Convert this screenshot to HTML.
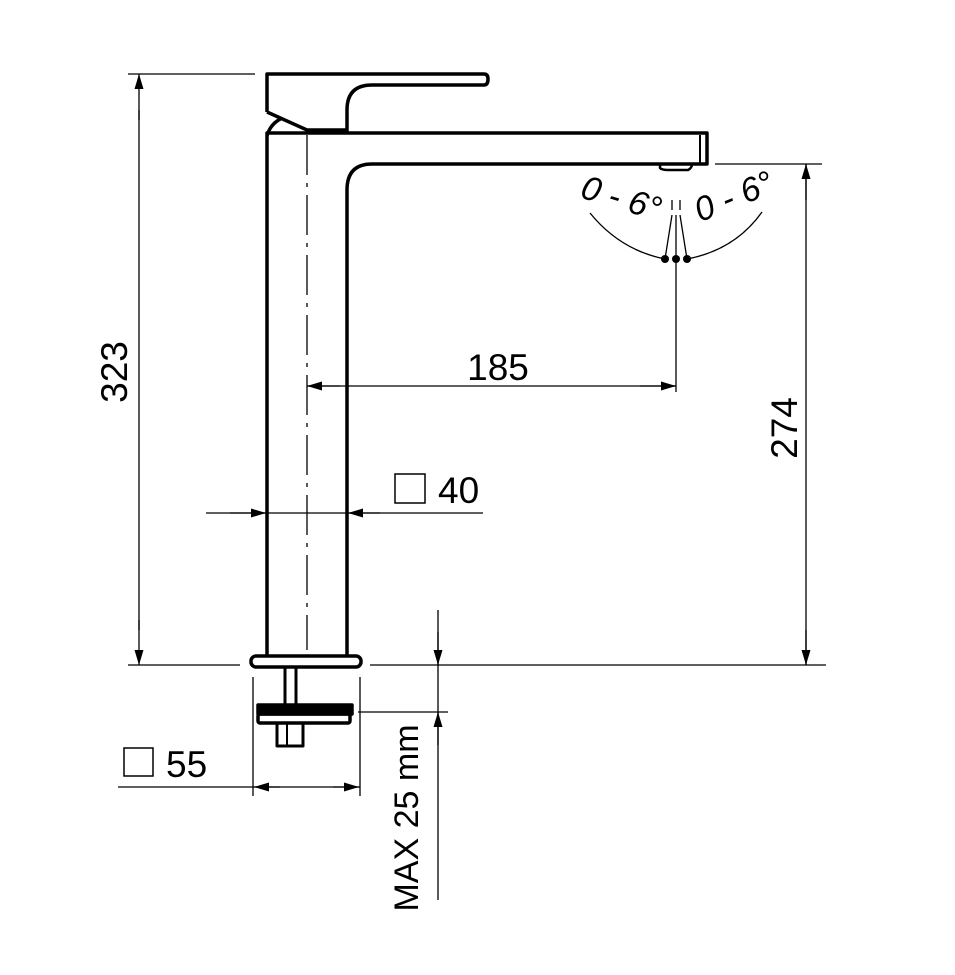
<!DOCTYPE html>
<html><head><style>body{margin:0;background:#fff}svg{display:block}</style></head><body>
<svg width="955" height="975" viewBox="0 0 955 975" xmlns="http://www.w3.org/2000/svg" font-family="Liberation Sans, Arial, sans-serif">
<defs>
<marker id="a" viewBox="0 0 10 6" refX="10" refY="3" markerWidth="22" markerHeight="9" markerUnits="userSpaceOnUse" orient="auto"><path d="M0,0 L10,3 L0,6 Z" fill="#000"/></marker>
</defs>
<g fill="none" stroke="#000" stroke-width="3.5" stroke-linejoin="round">
<path d="M267,112 L267,74 L484,74 Q488,74 488,79 Q488,85 484,85 L372,85 Q347,85 347,110 L347,132"/>
<path d="M267,112 L307,130 L347,130"/>
<path d="M267,136 Q270,124 282,118"/>
<path d="M267,655 L267,133 L707,133 L707,164 L372,164 Q347,164 347,190 L347,655"/>
<line x1="700" y1="135" x2="700" y2="163" stroke-width="2"/>
<path d="M660,164 L660,168 Q662,170 668,170 L688,170 Q692,168 692,164" stroke-width="2.5"/>
<rect x="251" y="656" width="110" height="11" rx="5"/>
<line x1="285" y1="667" x2="285" y2="705" stroke-width="3"/>
<line x1="296" y1="667" x2="296" y2="705" stroke-width="3"/>
<rect x="258" y="705" width="94" height="9" fill="#000"/>
<rect x="258" y="714" width="92" height="9" rx="2"/>
<path d="M277,723 L277,746 L303,746 L303,723" stroke-width="3"/>
<line x1="287" y1="724" x2="287" y2="745" stroke-width="2"/>
</g>
<g fill="none" stroke="#000" stroke-width="1.3">
<line x1="307" y1="135" x2="307" y2="650" stroke-dasharray="40,8,4,8"/>
<line x1="128" y1="74" x2="255" y2="74"/>
<line x1="128" y1="665" x2="240" y2="665"/>
<line x1="139" y1="120" x2="139" y2="74" marker-end="url(#a)"/>
<line x1="139" y1="620" x2="139" y2="665" marker-end="url(#a)"/>
<line x1="139" y1="110" x2="139" y2="630"/>
<line x1="715" y1="164" x2="822" y2="164"/>
<line x1="370" y1="665" x2="826" y2="665"/>
<line x1="806" y1="164" x2="806" y2="665"/>
<line x1="806" y1="200" x2="806" y2="164" marker-end="url(#a)"/>
<line x1="806" y1="630" x2="806" y2="665" marker-end="url(#a)"/>
<line x1="307" y1="386" x2="676" y2="386"/>
<line x1="340" y1="386" x2="307" y2="386" marker-end="url(#a)"/>
<line x1="640" y1="386" x2="676" y2="386" marker-end="url(#a)"/>
<line x1="676" y1="260" x2="676" y2="392"/>
<line x1="206" y1="513" x2="483" y2="513"/>
<line x1="230" y1="513" x2="266" y2="513" marker-end="url(#a)"/>
<line x1="380" y1="513" x2="348" y2="513" marker-end="url(#a)"/>
<line x1="253" y1="677" x2="253" y2="796"/>
<line x1="360" y1="677" x2="360" y2="796"/>
<line x1="118" y1="787" x2="360" y2="787"/>
<line x1="280" y1="787" x2="254" y2="787" marker-end="url(#a)"/>
<line x1="333" y1="787" x2="359" y2="787" marker-end="url(#a)"/>
<line x1="438" y1="610" x2="438" y2="900"/>
<line x1="438" y1="632" x2="438" y2="665" marker-end="url(#a)"/>
<line x1="438" y1="745" x2="438" y2="712" marker-end="url(#a)"/>
<line x1="358" y1="712" x2="448" y2="712"/>
<path d="M590,213 Q620,250 665,259"/>
<path d="M687,259 Q735,250 762,212"/>
<line x1="672" y1="215" x2="665" y2="259"/>
<line x1="676" y1="215" x2="676" y2="259"/>
<line x1="680" y1="215" x2="687" y2="259"/>
<line x1="672" y1="200" x2="672" y2="210"/>
<line x1="680" y1="200" x2="680" y2="210"/>
</g>
<g fill="#000">
<circle cx="665" cy="259" r="4"/><circle cx="676" cy="259" r="4"/><circle cx="687" cy="259" r="4"/>
</g>
<g font-size="37" fill="#000">
<text transform="translate(127,372) rotate(-90)" text-anchor="middle">323</text>
<text transform="translate(797,428) rotate(-90)" text-anchor="middle">274</text>
<text x="498" y="380" text-anchor="middle">185</text>
<text x="438" y="503">40</text>
<text x="166" y="777">55</text>
<text transform="translate(418,818) rotate(-90)" text-anchor="middle" font-size="34">MAX 25 mm</text>
<text transform="translate(618,209) rotate(17)" text-anchor="middle" font-size="34" font-style="italic">0 - 6°</text>
<text transform="translate(738,207) rotate(-22)" text-anchor="middle" font-size="34" font-style="italic">0 - 6°</text>
</g>
<g fill="none" stroke="#000" stroke-width="1.5">
<rect x="395" y="474" width="30" height="29"/>
<rect x="124" y="748" width="29" height="28"/>
</g>
</svg>
</body></html>
